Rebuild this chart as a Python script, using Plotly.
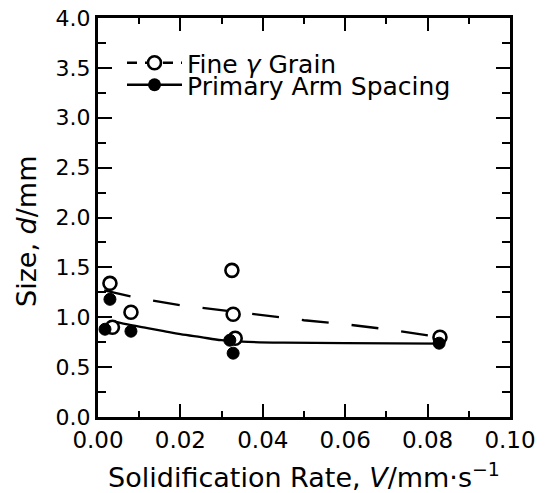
import plotly.graph_objects as go

# Fine gamma grain (open circles)
fine_x = [0.0029, 0.0035, 0.0080, 0.0325, 0.0328, 0.0333, 0.0830]
fine_y = [1.34, 0.90, 1.05, 1.47, 1.03, 0.79, 0.80]

# Primary arm spacing (filled circles)
arm_x = [0.0017, 0.0029, 0.0080, 0.0320, 0.0328, 0.0828]
arm_y = [0.88, 1.18, 0.86, 0.77, 0.64, 0.74]

# Fitted curves
fine_fit_x = [0.0015, 0.01, 0.02, 0.03, 0.04, 0.05, 0.06, 0.07, 0.083]
fine_fit_y = [1.27, 1.19, 1.12, 1.07, 1.02, 0.97, 0.93, 0.88, 0.80]
arm_fit_x = [0.0035, 0.008, 0.012, 0.016, 0.02, 0.025, 0.03, 0.035, 0.045, 0.06, 0.083]
arm_fit_y = [0.96, 0.92, 0.89, 0.86, 0.83, 0.80, 0.77, 0.755, 0.745, 0.74, 0.735]

x_ticks = [0.0, 0.02, 0.04, 0.06, 0.08, 0.10]
x_ticklabels = ["0.00", "0.02", "0.04", "0.06", "0.08", "0.10"]
y_ticks = [0.0, 0.5, 1.0, 1.5, 2.0, 2.5, 3.0, 3.5, 4.0]
y_ticklabels = ["0.0", "0.5", "1.0", "1.5", "2.0", "2.5", "3.0", "3.5", "4.0"]

FONT = "DejaVu Sans, Verdana, sans-serif"
fig = go.Figure()

fig.add_trace(go.Scatter(x=fine_fit_x, y=fine_fit_y, mode="lines",
                         line=dict(color="black", width=2.3, dash="27px,23px"),
                         showlegend=False, hoverinfo="skip"))
fig.add_trace(go.Scatter(x=arm_fit_x, y=arm_fit_y, mode="lines", line_shape="spline",
                         line=dict(color="black", width=2.3),
                         showlegend=False, hoverinfo="skip"))
fig.add_trace(go.Scatter(x=fine_x, y=fine_y, mode="markers",
                         marker=dict(symbol="circle", size=13, color="white",
                                     line=dict(color="black", width=2.6)),
                         showlegend=False))
fig.add_trace(go.Scatter(x=arm_x, y=arm_y, mode="markers",
                         marker=dict(symbol="circle", size=12, color="black",
                                     line=dict(color="black", width=1)),
                         showlegend=False))

# legend entries
fig.add_trace(go.Scatter(x=[None], y=[None], mode="lines+markers", name="Fine <i>γ</i> Grain",
                         line=dict(color="black", width=2.4, dash="10px,8px"),
                         marker=dict(symbol="circle", size=13, color="white",
                                     line=dict(color="black", width=2.6)),
                         legend="legend"))
fig.add_trace(go.Scatter(x=[None], y=[None], mode="lines+markers", name="Primary Arm Spacing",
                         line=dict(color="black", width=2.4),
                         marker=dict(symbol="circle", size=13, color="black"),
                         legend="legend2"))

legend_common = dict(font=dict(family=FONT, size=25, color="black"),
                     bgcolor="rgba(0,0,0,0)", borderwidth=0, itemwidth=55,
                     xref="paper", yref="paper", xanchor="left", yanchor="middle")

fig.update_layout(
    width=554, height=493,
    margin=dict(l=98, r=44, t=18, b=76, autoexpand=False),
    paper_bgcolor="white", plot_bgcolor="white",
    font=dict(family=FONT, size=23, color="black"),
    legend=dict(x=(122 - 98) / 412, y=(417 - 63) / 399, **legend_common),
    legend2=dict(x=(122 - 98) / 412, y=(417 - 85) / 399, **legend_common),
    xaxis=dict(range=[0, 0.10], tickvals=x_ticks, ticktext=x_ticklabels,
               ticks="inside", ticklen=13, tickwidth=2.2, tickcolor="black",
               minor=dict(dtick=0.01, ticks="inside", ticklen=6, tickwidth=2, tickcolor="black"),
               showline=True, linewidth=3, linecolor="black", mirror="ticks",
               showgrid=False, zeroline=False, tickangle=0,
               title=dict(text="Solidification Rate, <i>V</i>/mm·s<sup>−1</sup>",
                          font=dict(size=27), standoff=19),
               tickfont=dict(size=23)),
    yaxis=dict(range=[0, 4.0], tickvals=y_ticks, ticktext=y_ticklabels,
               ticks="inside", ticklen=14, tickwidth=2.2, tickcolor="black",
               minor=dict(dtick=0.25, ticks="inside", ticklen=8, tickwidth=2, tickcolor="black"),
               showline=True, linewidth=3, linecolor="black", mirror="ticks",
               showgrid=False, zeroline=False,
               tickfont=dict(size=22)),
    annotations=[dict(text="Size, <i>d</i>/mm", textangle=-90, showarrow=False,
                      xref="paper", yref="paper",
                      x=(26 - 98) / 412, y=(417 - 232) / 399,
                      xanchor="center", yanchor="middle",
                      font=dict(family=FONT, size=27, color="black"))],
)

fig.write_html("out.html")
